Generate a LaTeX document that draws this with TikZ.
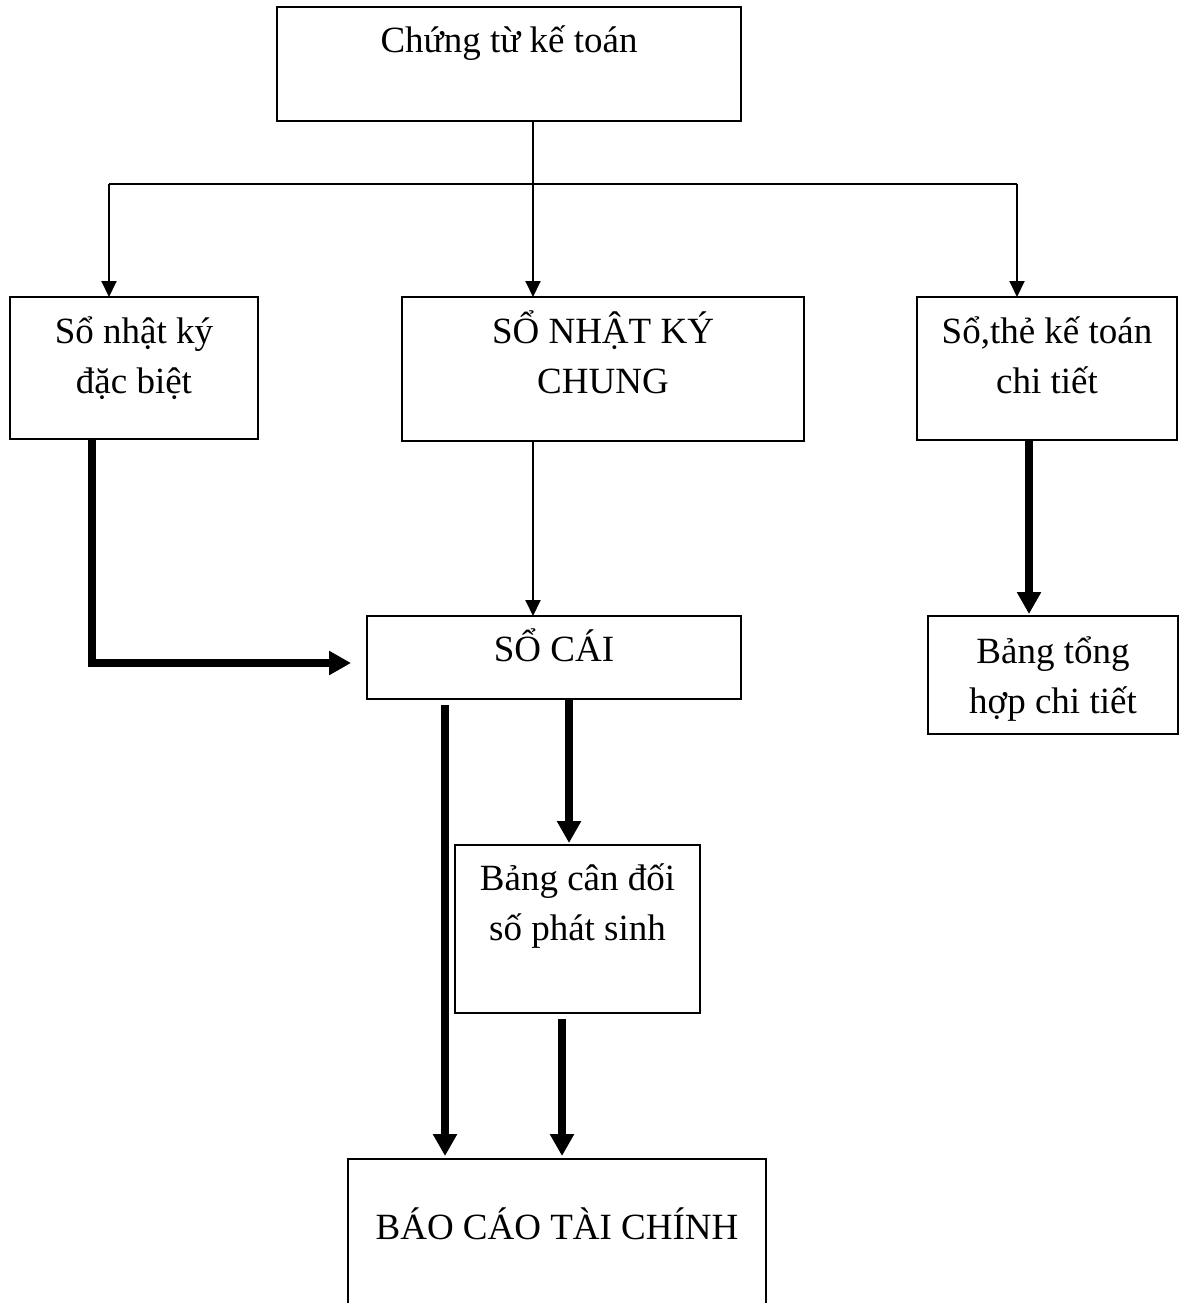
\documentclass[tikz,border=0pt]{standalone}
\usepackage{fontspec}
\setmainfont{Liberation Serif}
\usetikzlibrary{arrows.meta,calc}
\begin{document}
\begin{tikzpicture}[x=1pt,y=-1pt,
  box/.style={draw,line width=2.5pt,rectangle,anchor=north west,inner sep=0pt,outer sep=0pt,
    align=center,font=\fontsize{37}{50}\selectfont},
  thin/.style={line width=2pt,-{Triangle[width=15pt,length=16pt]}},
  thick/.style={line width=8pt,-{Triangle[width=23pt,length=22pt]}}]
\useasboundingbox (0,0) rectangle (1187,1303);
% boxes
\node[box,minimum width=464pt,text height=46pt,text depth=68pt] (ct) at (277,7) {Chứng từ kế toán};
\node[box,minimum width=248pt,text height=96pt,text depth=46pt] (nkdb) at (10,297) {Sổ nhật ký\\đặc biệt};
\node[box,minimum width=402pt,text height=96pt,text depth=48pt] (nkc) at (402,297) {SỔ NHẬT KÝ\\CHUNG};
\node[box,minimum width=260pt,text height=96pt,text depth=47pt] (sct) at (917,297) {Sổ,thẻ kế toán\\chi tiết};
\node[box,minimum width=374pt,text height=45pt,text depth=38pt] (sc) at (367,616) {SỔ CÁI};
\node[box,minimum width=250pt,text height=97pt,text depth=21pt] (bth) at (928,616) {Bảng tổng\\hợp chi tiết};
\node[box,minimum width=245pt,text height=95pt,text depth=73pt] (bcd) at (455,845) {Bảng cân đối\\số phát sinh};
\node[box,minimum width=418pt,text height=80pt,text depth=80pt] (bctc) at (348,1159) {BÁO CÁO TÀI CHÍNH};
% junction coordinates
\coordinate (jl) at (109,184);
\coordinate (jm) at (533,184);
\coordinate (jr) at (1017,184);
\coordinate (xl) at (92,663);
\coordinate (xdb) at (1029,0);
\coordinate (xs1) at (445,705);
\coordinate (xs2) at (569,0);
\coordinate (xb) at (562,1019);
% thin connectors
\draw[line width=2pt] (jl) -- (jr);
\draw[thin] (jl) -- (jl |- nkdb.north);
\draw[thin] (jr) -- (jr |- sct.north);
\draw[thin] (jm |- ct.south) -- (jm |- nkc.north);
\draw[thin] (jm |- nkc.south) -- (jm |- sc.north);
% thick connectors
\draw[thick] (xl |- nkdb.south) -- (xl) -- ($(xl -| sc.west)+(-16,0)$);
\draw[thick] (xdb |- sct.south) -- ($(xdb |- bth.north)+(0,-2)$);
\draw[thick] (xs2 |- sc.south) -- ($(xs2 |- bcd.north)+(0,-2)$);
\draw[thick] (xs1) -- ($(xs1 |- bctc.north)+(0,-3)$);
\draw[thick] (xb) -- ($(xb |- bctc.north)+(0,-3)$);
\end{tikzpicture}
\end{document}
